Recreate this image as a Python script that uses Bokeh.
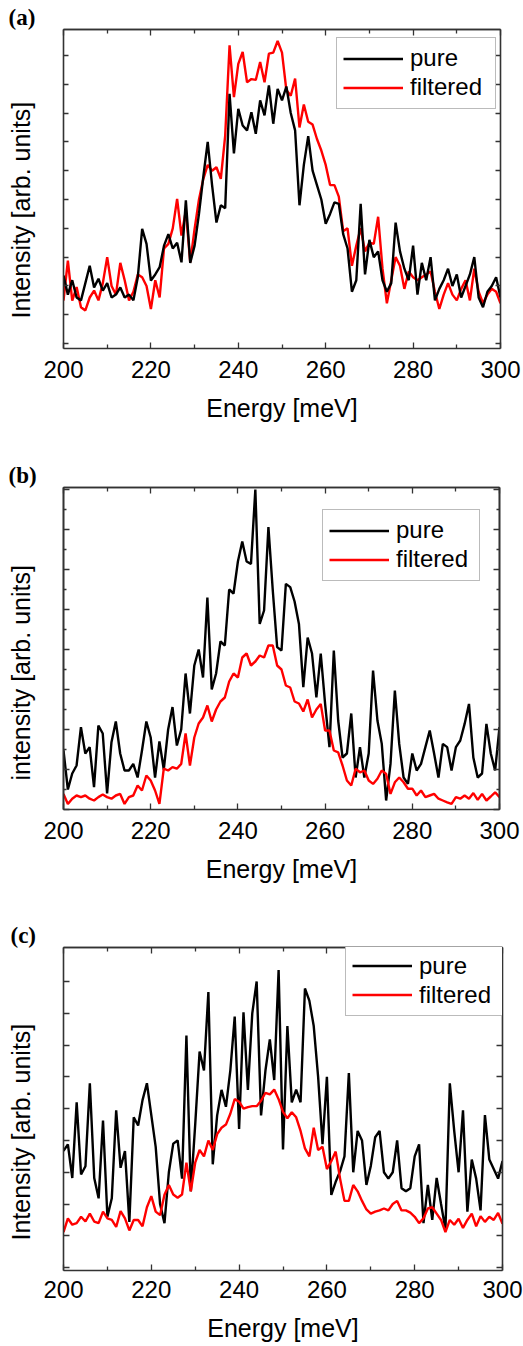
import numpy as np
from bokeh.plotting import figure
from bokeh.models import (Range1d, FixedTicker, LinearAxis, Legend, Title,
                          LegendItem, ColumnDataSource)
from bokeh.layouts import column
from bokeh.embed import file_html
from bokeh.resources import INLINE

# ---------------- data ----------------
energy = list(range(200, 301))  # meV

a_pure = [23.6, 17, 22, 16, 15, 21, 27, 19.5, 22.5, 18.4,
          21, 16, 17, 19.5, 16, 17, 15, 23, 39.8, 34.6,
          21.9, 24, 26.5, 34, 38, 33, 35, 28.2, 49.7, 28,
          34, 45, 58, 70, 55, 42, 48, 47, 86.7, 66,
          81.5, 75.7, 74, 80.3, 72.8, 84.4, 79.2, 89.6, 76.3, 88.4,
          84.4, 89.2, 80, 74, 48, 62, 72, 60, 55, 50,
          41.6, 45, 49, 48.5, 38, 33, 18, 22, 48.5, 24,
          36, 30, 32, 22, 18, 21, 42, 32, 26, 22,
          34, 17, 28, 22, 30, 15, 19, 22, 26, 20,
          24, 16, 20, 24, 30, 16, 12.6, 18, 20, 23,
          16]
a_filt = [14.9, 28.8, 14.9, 19.6, 12.6, 11.5, 16, 18.4, 15, 21,
          30, 20, 17, 28, 22, 15, 18, 24, 23, 20,
          12, 22, 16, 33, 34.6, 40, 50.2, 37.5, 46.2, 28.2,
          39.8, 50, 57.2, 62, 60, 61.2, 57.2, 72.2, 103.5, 85.5,
          97.1, 101.2, 90.7, 91.8, 91.5, 97.7, 90.7, 100.6, 101, 105,
          101, 88, 86, 92, 75, 83, 77, 76, 71, 67,
          62, 55, 55, 51, 39, 40, 27, 34, 40, 32,
          35, 34.6, 44, 26, 14, 22, 30, 27, 19, 25,
          23, 22, 23, 24, 25, 18, 12, 17, 21, 17,
          15, 19, 22, 15, 26, 18, 14, 17, 19, 18,
          14]

b_pure = [14.75, 5, 9, 11, 20.6, 14, 15.6, 5.6, 21, 19,
          4, 16.8, 22, 14, 9.75, 9.75, 11.4, 8, 14.75, 22,
          18, 8, 17, 10, 20, 25.6, 16, 20, 34, 24,
          36, 40, 33, 53, 30, 34, 42, 41, 55, 54,
          62, 67, 62, 61.4, 80, 46.4, 49.75, 70.6, 54.75, 40.6,
          39.75, 56.4, 55.6, 52, 46.4, 30.6, 43, 39, 28, 39,
          26.4, 15.6, 39.75, 22.25, 13, 14, 24, 8, 15.6, 8,
          14, 34.75, 22.25, 16.4, 2.25, 11.4, 29.75, 16.4, 8, 6.4,
          14, 9.75, 11.4, 15.6, 19.75, 14, 8, 16.4, 15.6, 9.75,
          15.6, 17.25, 21.4, 26.4, 13, 8, 9, 21.4, 14, 9.75,
          20.6]
b_filt = [3.9, 1.4, 2.7, 3.5, 3.1, 3.5, 2.7, 2.25, 3.1, 3.75,
          3.1, 2.7, 3.5, 3.9, 1.4, 3.1, 3.5, 6, 4.75, 8.5,
          7.25, 4.75, 1.4, 10.2, 9.75, 10.6, 10.2, 11.4, 19, 11,
          18, 21.5, 23, 26, 22, 25, 27, 28, 32, 34,
          33, 38, 39, 36, 37, 38.5, 38, 41, 41, 36,
          35, 31, 30.5, 27, 26.5, 24.5, 27.5, 23, 25, 26.4,
          19.75, 19.75, 14.75, 14.3, 11, 7.25, 6, 10.2, 9.3, 9.75,
          7.25, 6.4, 7.7, 9.75, 8.9, 3.9, 6.8, 8, 6.8, 5.2,
          5.2, 3.5, 4.75, 3.1, 3.5, 3.9, 2.7, 2.25, 1.8, 1.4,
          3.1, 2.7, 3.5, 2.7, 4.1, 2.4, 3.9, 2.25, 3.25, 4.3,
          3.1]

c_pure = [36.7, 38.8, 28.2, 52, 29.3, 31.9, 58, 28.2, 21.8, 46.3,
          16, 21.8, 49.5, 31.4, 36.7, 14.4, 47.3, 44.7, 52.7, 58,
          48, 38, 20, 14, 30, 39, 40, 28, 73, 24,
          45, 68, 62, 86.7, 32.5, 47.9, 55.9, 50.6, 62, 79,
          43.6, 80.3, 55.9, 80, 90, 47.9, 62, 71.8, 59, 93.6,
          37.2, 76, 52, 56, 52, 87.8, 84, 76, 60, 38.8,
          60, 22.9, 27, 30.3, 35, 61.2, 30, 43, 40, 26,
          32, 41, 43, 30, 28, 30, 40, 25, 24, 25,
          35, 38.8, 14, 26, 15, 28.2, 20, 12, 58, 43,
          30, 49.5, 17.6, 34, 28, 18, 48, 34, 31, 28,
          33.5]
c_filt = [11.2, 15.5, 13.5, 14, 16, 14.5, 17, 14.5, 14, 17.6,
          15.5, 15, 12.8, 17.8, 15.5, 11.7, 15, 15, 13, 19,
          22.5, 17.6, 16.5, 22.9, 26, 23, 22, 23, 33, 24,
          33, 37, 35, 40, 37, 42, 44, 45, 48.4, 53,
          52.2, 50, 50.5, 50.8, 50.8, 52.5, 55, 54.5, 56, 53,
          49, 47, 48.9, 47.3, 43, 37.5, 35, 44, 37, 38,
          31, 33.5, 36.5, 28, 21, 21, 26, 24, 21, 18.3,
          17, 17.6, 18, 18.6, 18, 20, 21, 18, 18, 17.3,
          16, 14, 15.5, 18.6, 19, 17, 15, 11.2, 15, 13.5,
          15.4, 12.5, 15, 17, 13, 16.2, 14.4, 16, 15, 17.2,
          13.8]

series_names = ["pure", "filtered"]
panel_tags = ["(a)", "(b)", "(c)"]
y_titles = ["Intensity [arb. units]", "intensity [arb. units]", "Intensity [arb. units]"]
x_title = "Energy [meV]"
x_major = [200, 220, 240, 260, 280, 300]
x_minor = [210, 230, 250, 270, 290]

# ---------------- layout / style ----------------
FRAME_COL = "#333333"
SANS = "Liberation Sans"

panels = [
    dict(pure=a_pure, filt=a_filt, fw=437, fh=319, left=63, right=23, top=29, bottom=105,
         yr=(-1.7, 109), ymaj=list(range(0, 101, 10)), ymin=[], maj_len=5, min_len=3,
         leg=(273, 239.5), lw=79, tag_off=-55, yt_off=30, lab_so=12, tit_so=13),
    dict(pure=b_pure, filt=b_filt, fw=436, fh=322, left=62, right=25, top=34, bottom=110,
         yr=(0, 80.5), ymaj=list(range(0, 81, 10)), ymin=list(range(5, 81, 10)), maj_len=6, min_len=3,
         leg=(259, 228.5), lw=77, tag_off=-55, yt_off=29, lab_so=12, tit_so=13),
    dict(pure=c_pure, filt=c_filt, fw=439, fh=323, left=60, right=24, top=28, bottom=76,
         yr=(-0.9, 100.7), ymaj=list(range(0, 91, 10)), ymin=[], maj_len=6, min_len=3,
         leg=(282, 254), lw=78, tag_off=-53, yt_off=30, lab_so=10, tit_so=13),
]


def line_style(ax):
    ax.axis_line_color = FRAME_COL
    ax.axis_line_width = 1.6
    ax.major_tick_line_color = FRAME_COL
    ax.major_tick_line_width = 1.3
    ax.minor_tick_line_color = FRAME_COL
    ax.minor_tick_line_width = 1.3


def tick_only(ax, positions, length):
    """Axis that only draws the frame edge and inward ticks (no labels)."""
    ax.ticker = FixedTicker(ticks=[], minor_ticks=positions)
    ax.major_tick_in = 0
    ax.major_tick_out = 0
    ax.minor_tick_in = length
    ax.minor_tick_out = 0
    ax.major_label_standoff = 0
    line_style(ax)
    return ax


figs = []
for i, cfg in enumerate(panels):
    p = figure(frame_width=cfg["fw"], frame_height=cfg["fh"],
               x_range=Range1d(200, 300), y_range=Range1d(*cfg["yr"]),
               output_backend="svg", toolbar_location=None, title=panel_tags[i],
               min_border_left=cfg["left"], min_border_right=cfg["right"],
               min_border_top=cfg["top"], min_border_bottom=cfg["bottom"])
    p.grid.visible = False
    p.outline_line_color = None
    p.background_fill_color = "white"
    p.border_fill_color = "white"

    # panel tag "(a)" etc. as the plot title, pushed to the left edge
    p.title.align = "left"
    p.title.offset = cfg["tag_off"]
    p.title.standoff = 0
    p.title.vertical_align = "bottom"
    p.title.text_font = "Liberation Serif"
    p.title.text_font_style = "bold"
    p.title.text_font_size = "23px"
    p.title.text_color = "black"

    # bottom axis: labelled
    xa = p.xaxis[0]
    xa.ticker = FixedTicker(ticks=x_major, minor_ticks=x_minor)
    xa.major_tick_in = 6
    xa.major_tick_out = 0
    xa.minor_tick_in = 4
    xa.minor_tick_out = 0
    line_style(xa)
    xa.major_label_text_font = SANS
    xa.major_label_text_font_size = "24px"
    xa.major_label_text_color = "black"
    xa.major_label_standoff = cfg["lab_so"]
    xa.axis_label = x_title
    xa.axis_label_text_font = SANS
    xa.axis_label_text_font_style = "normal"
    xa.axis_label_text_font_size = "25px"
    xa.axis_label_text_color = "black"
    xa.axis_label_standoff = cfg["tit_so"]

    # left axis (ticks only) + optional short ticks
    tick_only(p.yaxis[0], cfg["ymaj"], cfg["maj_len"])
    if cfg["ymin"]:
        p.add_layout(tick_only(LinearAxis(), cfg["ymin"], cfg["min_len"]), "left")
    # practically invisible spacer axis that keeps the y title away from the frame
    spacer = LinearAxis(ticker=FixedTicker(ticks=cfg["ymaj"], minor_ticks=[]),
                        major_tick_out=29, minor_tick_out=0, major_tick_in=0, minor_tick_in=0,
                        axis_line_color=None, major_tick_line_color="white",
                        major_tick_line_alpha=0.01, major_tick_line_width=1,
                        minor_tick_line_color=None, major_label_text_font_size="0px",
                        major_label_standoff=0)
    p.add_layout(spacer, "left")
    p.add_layout(Title(text=y_titles[i], align="left", offset=cfg["yt_off"], standoff=0,
                       vertical_align="bottom", text_font=SANS, text_font_style="normal",
                       text_font_size="25px", text_color="black"), "left")

    # mirrored ticks on top and right
    p.add_layout(tick_only(LinearAxis(), x_major, 6), "above")
    p.add_layout(tick_only(LinearAxis(), x_minor, 4), "above")
    p.add_layout(tick_only(LinearAxis(), cfg["ymaj"], cfg["maj_len"]), "right")
    if cfg["ymin"]:
        p.add_layout(tick_only(LinearAxis(), cfg["ymin"], cfg["min_len"]), "right")

    src = ColumnDataSource(dict(e=energy, pure=cfg["pure"], filt=cfg["filt"]))
    if i == 0:
        r_f = p.line("e", "filt", source=src, line_color="#ff0000", line_width=2.4)
        r_p = p.line("e", "pure", source=src, line_color="black", line_width=2.4)
    else:
        r_p = p.line("e", "pure", source=src, line_color="black", line_width=2.4)
        r_f = p.line("e", "filt", source=src, line_color="#ff0000", line_width=2.4)

    leg = Legend(items=[LegendItem(label=series_names[0], renderers=[r_p]),
                        LegendItem(label=series_names[1], renderers=[r_f])],
                 location=cfg["leg"], orientation="vertical")
    leg.label_text_font = SANS
    leg.label_text_font_size = "24px"
    leg.label_text_color = "black"
    leg.glyph_width = 60
    leg.glyph_height = 29
    leg.label_height = 29
    leg.label_standoff = 7
    leg.label_width = cfg["lw"]
    leg.padding = 6
    leg.spacing = 0
    leg.margin = 0
    leg.border_line_color = "#777777"
    leg.border_line_width = 1
    leg.background_fill_color = "white"
    leg.background_fill_alpha = 1
    p.add_layout(leg)
    figs.append(p)

layout = column(*figs, spacing=0)
open("out.html", "w").write(file_html(layout, INLINE))
